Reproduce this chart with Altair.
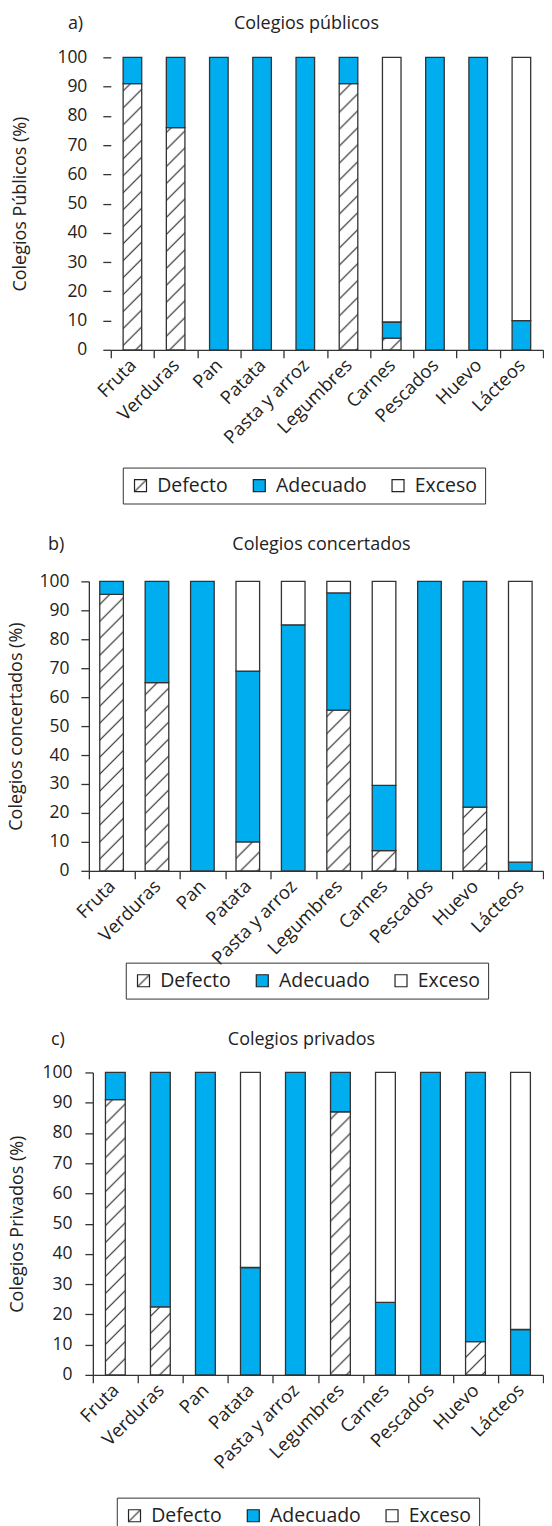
import altair as alt
import pandas as pd
import jinja2

# ---------------- data ----------------
categories = ["Fruta", "Verduras", "Pan", "Patata", "Pasta y arroz",
              "Legumbres", "Carnes", "Pescados", "Huevo", "Lácteos"]
levels = ["Defecto", "Adecuado", "Exceso"]

pub_defecto = [91, 76, 0, 0, 0, 91, 4, 0, 0, 0]
pub_adecuado = [9, 24, 100, 100, 100, 9, 5.5, 100, 100, 10]
pub_exceso = [0, 0, 0, 0, 0, 0, 90.5, 0, 0, 90]

con_defecto = [95.5, 65, 0, 10, 0, 55.5, 7, 0, 22, 0]
con_adecuado = [4.5, 35, 100, 59, 85, 40.5, 22.5, 100, 78, 3]
con_exceso = [0, 0, 0, 31, 15, 4, 70.5, 0, 0, 97]

pri_defecto = [91, 22.5, 0, 0, 0, 87, 0, 0, 11, 0]
pri_adecuado = [9, 77.5, 100, 35.5, 100, 13, 24, 100, 89, 15]
pri_exceso = [0, 0, 0, 64.5, 0, 0, 76, 0, 0, 85]

FONT = "Open Sans"
BLUE = "#00AEEF"
INK = "#222222"


def long_table(defecto, adecuado, exceso):
    rows = []
    for i, c in enumerate(categories):
        for k, (lev, vals) in enumerate(zip(levels, [defecto, adecuado, exceso])):
            if vals[i] > 0:
                rows.append({"cat": c, "level": lev, "val": vals[i], "ord": k})
    return pd.DataFrame(rows)


def panel(df, title, ytitle, tag, shift, pw, h, bw, lx, ly, ydomain,
          lpad, ext, tpad, tagx, titlex, texty):
    bars = alt.Chart(df).mark_bar(
        width=alt.RelativeBandSize(bw), stroke="#333333", strokeWidth=1.3
    ).encode(
        x=alt.X("cat:N", sort=categories,
                scale=alt.Scale(paddingInner=0, paddingOuter=0,
                                range=[shift, shift + pw]),
                axis=alt.Axis(title=None, labelAngle=-45, tickBand="extent",
                              labelAlign="right", labelBaseline="middle",
                              labelPadding=4, tickSize=8, labelFontSize=18.5)),
        y=alt.Y("val:Q", stack="zero",
                scale=alt.Scale(domain=[0, 100], nice=False),
                axis=alt.Axis(values=list(range(0, 101, 10)), title=ytitle,
                              domain=ydomain, tickSize=8, labelPadding=lpad,
                              minExtent=ext, maxExtent=ext,
                              titlePadding=tpad, offset=-shift)),
        fill=alt.Fill("level:N",
                      scale=alt.Scale(domain=levels,
                                      range=["url(#hatch)", BLUE, "#ffffff"]),
                      legend=alt.Legend(title=None, orient="none",
                                        legendX=lx, legendY=ly,
                                        direction="horizontal",
                                        symbolType="square", symbolSize=144,
                                        symbolStrokeColor=INK,
                                        symbolStrokeWidth=1.2,
                                        labelFontSize=19.5, labelFont=FONT,
                                        labelColor=INK, labelOffset=7,
                                        columnPadding=21, padding=8,
                                        strokeColor="#333333")),
        order=alt.Order("ord:Q"),
    )
    tag_text = alt.Chart(pd.DataFrame({"t": [tag]})).mark_text(
        align="left", baseline="middle", fontSize=18, font=FONT, color=INK
    ).encode(x=alt.value(tagx), y=alt.value(texty), text="t:N")
    title_text = alt.Chart(pd.DataFrame({"t": [title]})).mark_text(
        align="center", baseline="middle", fontSize=18, font=FONT, color=INK
    ).encode(x=alt.value(titlex), y=alt.value(texty), text="t:N")
    return alt.layer(bars, tag_text, title_text).properties(
        width=shift + pw, height=h)


pa = panel(long_table(pub_defecto, pub_adecuado, pub_exceso),
           "Colegios públicos", "Colegios Públicos (%)", "a)",
           22, 433, 293, 0.43, 34, 411, False, 16, 53, 28, -21, 218, -33)
pb = panel(long_table(con_defecto, con_adecuado, con_exceso),
           "Colegios concertados", "Colegios concertados (%)", "b)",
           0, 455, 290, 0.52, 37, 382, True, 12, 49, 14, -41, 233, -36)
pc = panel(long_table(pri_defecto, pri_adecuado, pri_exceso),
           "Colegios privados", "Colegios Privados (%)", "c)",
           4, 451, 303, 0.44, 28, 426, True, 13, 50, 16, -38, 213, -32)

chart = alt.vconcat(pa, pb, pc, spacing=32).resolve_scale(
    x="independent", y="independent", fill="independent"
).resolve_legend(fill="independent").configure_axis(
    labelFont=FONT, labelFontSize=17.5, labelColor=INK,
    titleFont=FONT, titleFontSize=18, titleFontWeight="normal",
    titleColor=INK, domainColor="#333333", tickColor="#333333",
    domainWidth=1.3, tickWidth=1.3, grid=False,
).configure_view(stroke=None).properties(
    padding={"left": 0, "top": 6, "right": 0, "bottom": 5})

# hatch pattern definition used by the "Defecto" fill
DEFS = ('<svg width="0" height="0" style="position:absolute;left:0;top:0" aria-hidden="true">'
        '<defs><pattern id="hatch" patternUnits="userSpaceOnUse" width="17" height="17">'
        '<rect width="17" height="17" fill="#ffffff"/>'
        '<path d="M0,17 L17,0 M-2,2 L2,-2 M15,19 L19,15" stroke="#222" stroke-width="1.1"/>'
        '</pattern></defs></svg>')

try:
    from altair.utils.html import TEMPLATES as _TEMPLATES
    _STD = _TEMPLATES["standard"]

    class HatchTemplate(jinja2.Template):
        def render(self, *args, **kwargs):
            html = _STD.render(*args, **kwargs)
            if "<body>" in html:
                return html.replace("<body>", "<body>" + DEFS, 1)
            return DEFS + html

    chart.save("out.html", embed_options={"renderer": "svg", "actions": False},
               template=HatchTemplate(""))
except Exception:
    chart.save("out.html", embed_options={"renderer": "svg", "actions": False})
